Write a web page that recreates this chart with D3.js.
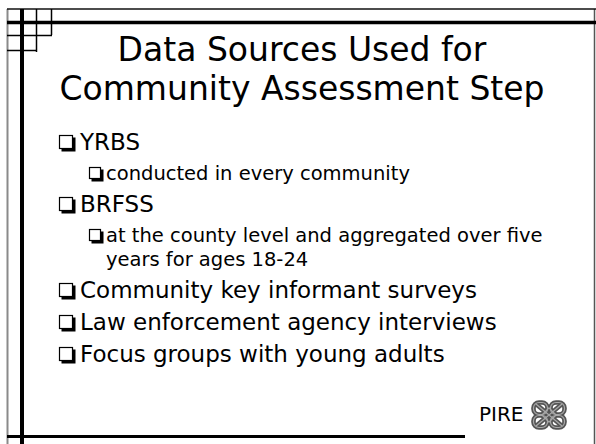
<!DOCTYPE html>
<html>
<head>
<meta charset="utf-8">
<script src="https://cdn.jsdelivr.net/npm/d3@7"></script>
<style>
  body { margin: 0; background: #fff; }
  svg { display: block; }
  text { font-family: "DejaVu Sans", Verdana, sans-serif; fill: #000; }
</style>
</head>
<body>
<div id="slide"></div>
<script>
// contenu de la diapo
var titleLines = ["Data Sources Used for", "Community Assessment Step"];
var bulletTexts = [
	["YRBS"],
	["conducted in every community"],
	["BRFSS"],
	["at the county level and aggregated over five", "years for ages 18-24"],
	["Community key informant surveys"],
	["Law enforcement agency interviews"],
	["Focus groups with young adults"]
];
var bulletLevels = [1, 2, 1, 2, 1, 1, 1];
var logoText = "PIRE";

var width = 596
var height = 444

var svg = d3.select("#slide").append("svg")
	.attr("width", width)
	.attr("height", height);

svg.append("rect").attr("width", width).attr("height", height).attr("fill", "#fff");

// cadre : lignes fines et épaisses
var frame = svg.append("g");
function line(x1, y1, x2, y2, w, c) {
	frame.append("line")
		.attr("x1", x1).attr("y1", y1).attr("x2", x2).attr("y2", y2)
		.attr("stroke", c || "#000").attr("stroke-width", w);
}
line(7.5, 9, 7.5, height, 2, "#8a8a8a");
line(594.5, 9, 594.5, height, 1.5, "#555");
line(7, 9, width, 9, 1.5, "#111");
line(7, 22.5, width, 22.5, 3.5, "#000");
line(22, 9, 22, height, 4, "#000");
line(7, 436.5, 465, 436.5, 3, "#000");
// petite grille en haut à gauche
line(36.5, 9, 36.5, 52, 1.5);
line(51.5, 9, 51.5, 35, 1.5);
line(7, 35.5, 52, 35.5, 1.5);
line(7, 50.5, 37, 50.5, 1.5);

// titre
svg.selectAll(".title")
	.data(titleLines)
	.enter()
	.append("text")
	.attr("class", "title")
	.attr("x", 302)
	.attr("y", (d, i) => 61 + i * 39)
	.attr("text-anchor", "middle")
	.attr("font-size", "33px")
	.text(d => d);

// styles par niveau de puce
var levelStyle = {
	1: {bx: 59, bs: 14, tx: 80, fs: 23, before: 32},
	2: {bx: 89, bs: 12, tx: 106, fs: 19.5, before: 30}
};
var lineStep = 24;

// position verticale de chaque paragraphe
var ys = [];
var y = 150;
bulletLevels.forEach(function (lv, i) {
	if (i > 0) y += levelStyle[lv].before;
	ys.push(y);
	y += (bulletTexts[i].length - 1) * lineStep;
});

var items = svg.selectAll(".item")
	.data(bulletTexts)
	.enter()
	.append("g")
	.attr("class", "item");

// puces carrées avec ombre
items.each(function (d, i) {
	var st = levelStyle[bulletLevels[i]];
	var g = d3.select(this);
	var top = ys[i] - st.bs - 1;
	g.append("rect")
		.attr("x", st.bx + 2.5).attr("y", top + 2.5)
		.attr("width", st.bs).attr("height", st.bs)
		.attr("fill", "#000");
	g.append("rect")
		.attr("x", st.bx + 0.5).attr("y", top + 0.5)
		.attr("width", st.bs - 1).attr("height", st.bs - 1)
		.attr("fill", "#fff").attr("stroke", "#000").attr("stroke-width", 1.2);
	g.selectAll("text")
		.data(d)
		.enter()
		.append("text")
		.attr("x", st.tx)
		.attr("y", (t, j) => ys[i] + j * lineStep)
		.attr("font-size", st.fs + "px")
		.text(t => t);
});

// logo PIRE
svg.append("text")
	.attr("x", 479)
	.attr("y", 421)
	.attr("font-size", "20px")
	.attr("fill", "#111")
	.text(logoText);

// noeud celtique (ruban gris foncé avec bord clair)
var knot = svg.append("g")
	.attr("transform", "translate(549,415)")
	.attr("fill", "none");
var lobes = [[-8.5, -6.5], [8.5, -6.5], [-8.5, 6.5], [8.5, 6.5]];
var ribbon = [["#555", 4.6], ["#a8a8a8", 1.2]];
ribbon.forEach(function (r) {
	lobes.forEach(function (p) {
		knot.append("rect")
			.attr("x", p[0] - 7).attr("y", p[1] - 6)
			.attr("width", 14).attr("height", 12)
			.attr("rx", 5.5)
			.attr("stroke", r[0]).attr("stroke-width", r[1]);
	});
	knot.append("path")
		.attr("d", "M-13,-11 L13,11 M13,-11 L-13,11")
		.attr("stroke", r[0]).attr("stroke-width", r[1]);
	knot.append("rect")
		.attr("x", -5).attr("y", -5).attr("width", 10).attr("height", 10)
		.attr("transform", "rotate(45)")
		.attr("stroke", r[0]).attr("stroke-width", r[1]);
});
</script>
</body>
</html>
